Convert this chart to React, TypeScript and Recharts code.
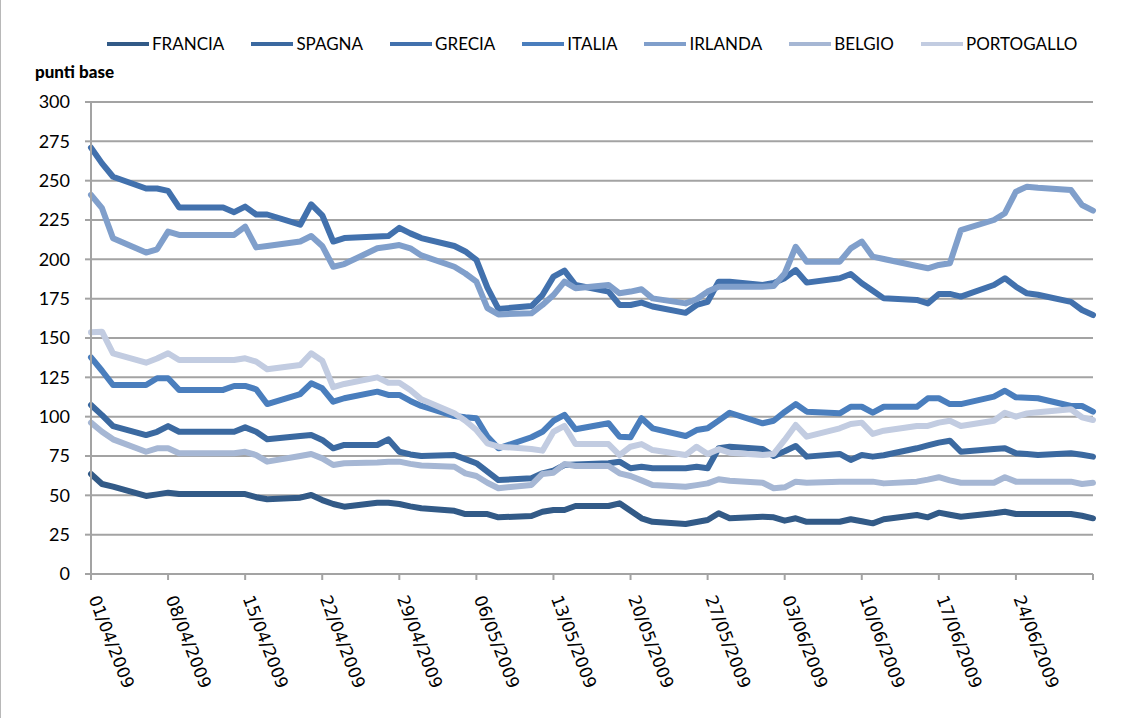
import { CartesianGrid, Line, LineChart, XAxis, YAxis } from "recharts";

// giorni lavorativi dal 01/04/2009 (0) al 01/07/2009 (91)
const days = [
  0, 1, 2, 5, 6, 7, 8, 9, 12, 13, 14, 15, 16, 19, 20, 21, 22, 23, 26, 27, 28, 29, 30, 33, 34, 35, 36, 37, 40, 41, 42, 43,
  44, 47, 48, 49, 50, 51, 54, 55, 56, 57, 58, 61, 62, 63, 64, 65, 68, 69, 70, 71, 72, 75, 76, 77, 78, 79, 82, 83, 84, 85,
  86, 89, 90, 91,
];

const francia = [
  63.6, 57.2, 55.5, 49.6, 50.6, 51.7, 50.8, 50.8, 50.8, 50.8, 50.8, 48.8, 47.5, 48.5, 50.2, 47, 44.5, 42.8, 45.3, 45.3,
  44.5, 43, 41.8, 40.2, 38.1, 38.1, 38.1, 36, 36.9, 39.6, 40.7, 40.7, 43.2, 43.2, 44.9, 40.2, 35.4, 33.2, 31.8, 33, 34.3,
  38.6, 35.4, 36.4, 36, 33.9, 35.4, 33.2, 33.2, 34.8, 33.5, 32.2, 34.8, 37.5, 36, 39, 37.7, 36.4, 38.6, 39.6, 38.1, 38.1,
  38.1, 38.1, 37, 35.4,
];
const spagna = [
  107.4, 101, 94, 88.3, 90.4, 94, 90.4, 90.4, 90.4, 90.4, 93.2, 90.4, 85.6, 87.7, 88.3, 85.2, 79.9, 82, 82, 85.6, 77.7, 76,
  75, 75.6, 73, 70.4, 65, 59.7, 60.8, 64, 65.7, 69.3, 69.6, 70.4, 71.4, 67.2, 68.2, 67.2, 67.2, 68.2, 67.2, 79.9, 80.9,
  79.5, 75, 78, 81.4, 74.6, 76.3, 72.5, 75.6, 74.6, 75.5, 79.9, 81.7, 83.5, 84.7, 77.7, 79.4, 79.9, 76.7, 76.2, 75.6,
  76.7, 75.8, 74.6,
];
const grecia = [
  271, 261, 252.5, 245, 245, 243.5, 233, 233, 233, 230, 233.5, 228.5, 228.5, 222, 235, 228, 211.3, 213.5, 214.5, 214.8,
  220, 216.5, 213.5, 208.5, 205, 199.6, 182, 168.5, 170.3, 177.3, 189, 192.8, 183.7, 179.5, 171, 171, 172.5, 170, 166,
  171, 173, 185.8, 185.8, 183.7, 185, 188, 193.2, 185.2, 188, 190.7, 184.8, 180, 175.2, 174.2, 172, 178, 178, 176.3,
  183.7, 188, 182.6, 178.4, 177.5, 173, 167.8, 164.6,
];
const italia = [
  137.7, 129.2, 120.1, 120.1, 124.4, 124.4, 117, 117, 117, 119.5, 119.5, 117.4, 108, 114.4, 121.2, 118, 109.5, 111.7,
  115.9, 113.8, 113.8, 110, 106.8, 100.4, 99.6, 99, 87.3, 79.9, 86.9, 90.4, 97.4, 101.1, 92, 95.8, 87.3, 86.9, 99, 92.6,
  87.7, 91.5, 92.6, 97.5, 102.5, 95.8, 97.4, 103, 108, 103.2, 102.1, 106.3, 106.3, 102.5, 106.3, 106.3, 111.7, 111.7,
  108, 108, 112.7, 116.5, 112.3, 112, 111.7, 106.8, 106.8, 103.2,
];
const irlanda = [
  241, 232.5, 213.4, 204.3, 206.4, 217.6, 215.5, 215.5, 215.5, 215.5, 220.8, 207.6, 208.5, 211.3, 214.8, 208.5, 195.3,
  197, 207, 208, 209.1, 207, 202.5, 195.3, 191, 185.8, 169, 165, 165.7, 171, 177.3, 185.8, 181.6, 183.7, 178.4, 179.5,
  181, 175.2, 172, 174.6, 179.5, 182.6, 182.6, 182.6, 183, 191, 208, 198.5, 198.5, 207, 211.3, 201.7, 200.2, 195.8,
  194.3, 196.4, 197.5, 218.6, 225, 229.3, 243, 246.2, 245.5, 244, 234.5, 231,
];
const belgio = [
  96.2, 90.4, 85.6, 77.7, 79.9, 79.9, 76.7, 76.7, 76.7, 76.7, 77.7, 75.6, 71.4, 75, 76.3, 73.5, 69.3, 70.4, 70.8, 71.4,
  71.4, 70, 69, 68.2, 64, 62.3, 58, 54.5, 56.6, 63.6, 64.4, 69.9, 68.6, 68.6, 64, 62.3, 59.5, 56.6, 55.5, 56.5, 57.6,
  60.2, 59.3, 58, 54.5, 55.1, 58.7, 58, 58.7, 58.7, 58.7, 58.7, 57.6, 58.7, 60, 61.5, 59.5, 58, 58, 61.5, 58.7, 58.7,
  58.7, 58.7, 57.2, 58,
];
const portogallo = [
  153.6, 154, 140.3, 134.3, 137, 140.3, 136, 136, 136, 136, 137.1, 135, 130.1, 132.8, 140.3, 135.6, 118.7, 120.8, 125,
  121.6, 121.6, 117, 111, 102.1, 97.4, 91.5, 83, 80.9, 79.5, 78.4, 90.4, 94.1, 82.6, 82.6, 75.6, 80.9, 82.6, 78.8, 75.6,
  80.9, 76.3, 79.3, 77.1, 75.6, 76.3, 85.2, 94.7, 87.3, 92.6, 95.3, 96.2, 89, 91.1, 94.1, 94.1, 96.2, 97.4, 94.1, 97.4,
  102.5, 100, 102.1, 102.8, 104.7, 99.6, 97.9,
];

const xTicks = [0, 7, 14, 21, 28, 35, 42, 49, 56, 63, 70, 77, 84, 91];
const xTickLabels = [
  "01/04/2009", "08/04/2009", "15/04/2009", "22/04/2009", "29/04/2009", "06/05/2009", "13/05/2009",
  "20/05/2009", "27/05/2009", "03/06/2009", "10/06/2009", "17/06/2009", "24/06/2009", "",
];
const yTicks = [0, 25, 50, 75, 100, 125, 150, 175, 200, 225, 250, 275, 300];

const series = [
  { key: "FRANCIA", values: francia, color: "#325a87" },
  { key: "SPAGNA", values: spagna, color: "#3b69a0" },
  { key: "GRECIA", values: grecia, color: "#4271ad" },
  { key: "ITALIA", values: italia, color: "#4a7ebd" },
  { key: "IRLANDA", values: irlanda, color: "#809fcb" },
  { key: "BELGIO", values: belgio, color: "#a6b7d4" },
  { key: "PORTOGALLO", values: portogallo, color: "#c2cce1" },
];

const data = days.map((day, i) => {
  const row: Record<string, number> = { day };
  series.forEach((s) => (row[s.key] = s.values[i]));
  return row;
});

const GRID = "#a3a3a3";

function DateTick(props: any) {
  const { x, y, payload } = props;
  const label = xTickLabels[xTicks.indexOf(payload.value)] ?? "";
  const tx = x + 3;
  const ty = y + 14;
  return (
    <text
      x={tx}
      y={ty}
      transform={`rotate(69 ${tx} ${ty})`}
      fontFamily="DejaVu Sans"
      fontSize={17}
      fill="#000"
      dominantBaseline="central"
    >
      {label}
    </text>
  );
}

export default function App() {
  return (
    <div style={{ position: "absolute", left: 0, top: 0, width: 1129, height: 718, background: "#fff" }}>
      <div style={{ position: "absolute", left: 0, top: 0, width: 1, height: 718, background: "#b8b8b8" }} />
      <div
        style={{
          position: "absolute",
          left: 107,
          top: 33,
          display: "flex",
          alignItems: "center",
          fontFamily: "Lato",
          fontSize: 17,
          color: "#000",
        }}
      >
        {series.map((s) => (
          <div key={s.key} style={{ display: "flex", alignItems: "center", marginRight: 27 }}>
            <div style={{ width: 42, height: 4, background: s.color, marginRight: 3 }} />
            <span>{s.key}</span>
          </div>
        ))}
      </div>
      <div
        style={{
          position: "absolute",
          left: 35,
          top: 61,
          fontFamily: "Lato",
          fontWeight: 900,
          fontSize: 17,
          color: "#000",
        }}
      >
        punti base
      </div>
      <LineChart width={1129} height={718} data={data} margin={{ top: 102, right: 36, bottom: 0, left: 0 }}>
        <CartesianGrid vertical={false} stroke={GRID} strokeWidth={2} />
        <XAxis
          dataKey="day"
          type="number"
          domain={[0, 91]}
          ticks={xTicks}
          interval={0}
          height={144}
          tick={<DateTick />}
          tickSize={6}
          axisLine={{ stroke: GRID, strokeWidth: 2 }}
          tickLine={{ stroke: GRID, strokeWidth: 2 }}
        />
        <YAxis
          domain={[0, 300]}
          ticks={yTicks}
          interval={0}
          width={91}
          tickSize={6}
          tickMargin={15}
          tick={{ fill: "#000", fontFamily: "Lato", fontSize: 18 }}
          axisLine={{ stroke: GRID, strokeWidth: 2 }}
          tickLine={{ stroke: GRID, strokeWidth: 2 }}
        />
        {series.map((s) => (
          <Line
            key={s.key}
            type="linear"
            dataKey={s.key}
            stroke={s.color}
            strokeWidth={6}
            strokeLinejoin="round"
            strokeLinecap="round"
            dot={false}
            activeDot={false}
            isAnimationActive={false}
          />
        ))}
      </LineChart>
    </div>
  );
}
